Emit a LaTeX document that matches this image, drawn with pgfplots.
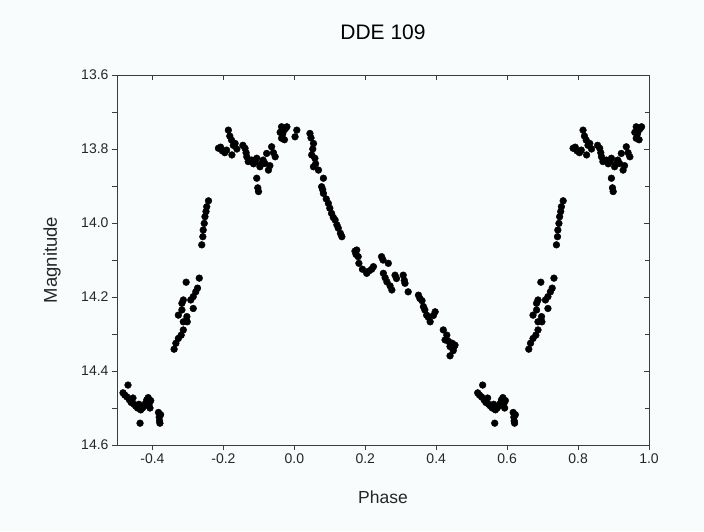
\documentclass[border=0pt]{standalone}
\usepackage{pgfplots}
\pgfplotsset{compat=1.18}
\usepackage{fontspec}
\setmainfont{Liberation Sans}
\pgfdeclarelayer{background}
\pgfsetlayers{background,main}
\definecolor{bgc}{RGB}{249,252,252}
\definecolor{framec}{RGB}{60,60,60}
\begin{document}
\begin{tikzpicture}
\pgfplotsset{
  common/.style={
    scale only axis, width=532pt, height=370pt,
    xmin=-0.5, xmax=1.0, ymin=13.6, ymax=14.6, y dir=reverse,
    xtick={-0.4,-0.2,0,0.2,0.4,0.6,0.8,1.0},
    ytick={13.6,13.8,14.0,14.2,14.4,14.6},
    minor y tick num=1,
    axis line style={draw=framec, line width=0.8pt},
    tick style={draw=framec, line width=0.8pt},
    major tick length=5pt, minor tick length=4.5pt,
    /pgf/number format/assume math mode=true,
    /pgf/number format/fixed, /pgf/number format/fixed zerofill,
    /pgf/number format/precision=1,
    ticklabel style={font=\fontsize{14}{16}\selectfont, text=black!85},
  }
}
\begin{axis}[common,
  xtick pos=bottom, ytick pos=left, tick align=outside,
  clip=false]
\addplot[only marks, mark=*, mark size=3.4pt, black] coordinates {
(-0.483,14.459) (-0.478,14.465) (-0.469,14.438) (-0.472,14.470) (-0.465,14.478)
(-0.460,14.485) (-0.455,14.473) (-0.452,14.490) (-0.447,14.495) (-0.442,14.500)
(-0.438,14.490) (-0.435,14.497) (-0.433,14.505) (-0.435,14.541) (-0.428,14.500)
(-0.424,14.495) (-0.420,14.488) (-0.416,14.478) (-0.412,14.472) (-0.408,14.485)
(-0.407,14.500) (-0.405,14.480) (-0.383,14.512) (-0.381,14.525) (-0.380,14.535)
(-0.379,14.541) (-0.377,14.518)
(-0.339,14.341) (-0.334,14.325) (-0.327,14.312) (-0.319,14.303) (-0.313,14.289)
(-0.302,14.267) (-0.313,14.267) (-0.327,14.249) (-0.303,14.253) (-0.317,14.235)
(-0.317,14.217) (-0.313,14.208) (-0.305,14.160) (-0.292,14.208) (-0.285,14.199)
(-0.285,14.231) (-0.278,14.186) (-0.273,14.176) (-0.268,14.149) (-0.261,14.059)
(-0.258,14.037) (-0.257,14.019) (-0.254,14.001) (-0.252,13.983) (-0.249,13.969)
(-0.247,13.956) (-0.242,13.940)
(-0.214,13.798) (-0.208,13.795) (-0.203,13.805) (-0.196,13.810) (-0.191,13.803)
(-0.186,13.749) (-0.182,13.765) (-0.177,13.776) (-0.172,13.790) (-0.176,13.816)
(-0.167,13.785) (-0.162,13.800) (-0.145,13.790) (-0.139,13.798) (-0.136,13.810)
(-0.134,13.821) (-0.130,13.834) (-0.120,13.830) (-0.115,13.840) (-0.110,13.835)
(-0.106,13.825) (-0.106,13.879) (-0.101,13.915) (-0.103,13.905) (-0.097,13.848)
(-0.092,13.840) (-0.088,13.830) (-0.083,13.839) (-0.078,13.812) (-0.073,13.857)
(-0.069,13.845) (-0.064,13.794) (-0.059,13.810) (-0.054,13.821) (-0.040,13.755)
(-0.036,13.740) (-0.033,13.760) (-0.031,13.753) (-0.036,13.771) (-0.028,13.775)
(-0.021,13.740) (-0.025,13.745) (0.007,13.749) (0.002,13.767)
(0.044,13.758) (0.047,13.770) (0.054,13.785) (0.049,13.816) (0.052,13.800)
(0.058,13.825) (0.054,13.848) (0.060,13.840) (0.068,13.857) (0.082,13.879)
(0.077,13.902) (0.080,13.910) (0.082,13.920) (0.090,13.935) (0.096,13.947)
(0.100,13.960) (0.105,13.974) (0.110,13.985) (0.115,13.992) (0.120,14.005)
(0.124,14.014) (0.130,14.028) (0.134,14.037) (0.171,14.076) (0.174,14.085)
(0.176,14.073) (0.180,14.091) (0.182,14.109) (0.192,14.125) (0.204,14.136)
(0.210,14.130) (0.218,14.125) (0.223,14.118) (0.246,14.091) (0.250,14.100)
(0.265,14.109) (0.251,14.136) (0.256,14.148) (0.261,14.159) (0.270,14.170)
(0.275,14.181) (0.284,14.141) (0.288,14.150) (0.307,14.141) (0.310,14.155)
(0.312,14.163) (0.321,14.186) (0.350,14.195) (0.354,14.204) (0.360,14.210)
(0.364,14.226) (0.368,14.235) (0.373,14.249) (0.378,14.255) (0.383,14.267)
(0.397,14.240) (0.392,14.250) (0.420,14.289) (0.425,14.316) (0.430,14.303)
(0.435,14.320) (0.439,14.334) (0.439,14.359) (0.445,14.325) (0.450,14.335)
(0.453,14.330) (0.448,14.345)
(0.517,14.459) (0.522,14.465) (0.531,14.438) (0.528,14.470) (0.535,14.478)
(0.540,14.485) (0.545,14.473) (0.548,14.490) (0.553,14.495) (0.558,14.500)
(0.562,14.490) (0.565,14.497) (0.567,14.505) (0.565,14.541) (0.572,14.500)
(0.576,14.495) (0.580,14.488) (0.584,14.478) (0.588,14.472) (0.592,14.485)
(0.593,14.500) (0.595,14.480) (0.617,14.512) (0.619,14.525) (0.620,14.535)
(0.621,14.541) (0.623,14.518)
(0.661,14.341) (0.666,14.325) (0.673,14.312) (0.681,14.303) (0.687,14.289)
(0.698,14.267) (0.687,14.267) (0.673,14.249) (0.697,14.253) (0.683,14.235)
(0.683,14.217) (0.687,14.208) (0.695,14.160) (0.708,14.208) (0.715,14.199)
(0.715,14.231) (0.722,14.186) (0.727,14.176) (0.732,14.149) (0.739,14.059)
(0.742,14.037) (0.743,14.019) (0.746,14.001) (0.748,13.983) (0.751,13.969)
(0.753,13.956) (0.758,13.940)
(0.786,13.798) (0.792,13.795) (0.797,13.805) (0.804,13.810) (0.809,13.803)
(0.814,13.749) (0.818,13.765) (0.823,13.776) (0.828,13.790) (0.824,13.816)
(0.833,13.785) (0.838,13.800) (0.855,13.790) (0.861,13.798) (0.864,13.810)
(0.866,13.821) (0.870,13.834) (0.880,13.830) (0.885,13.840) (0.890,13.835)
(0.894,13.825) (0.894,13.879) (0.899,13.915) (0.897,13.905) (0.903,13.848)
(0.908,13.840) (0.912,13.830) (0.917,13.839) (0.922,13.812) (0.927,13.857)
(0.931,13.845) (0.936,13.794) (0.941,13.810) (0.946,13.821) (0.960,13.755)
(0.964,13.740) (0.967,13.760) (0.969,13.753) (0.964,13.771) (0.972,13.775)
(0.979,13.740) (0.975,13.745)
};
\end{axis}
\begin{axis}[common,
  xtick pos=top, ytick pos=right, tick align=inside,
  xticklabels={}, yticklabels={}]
\end{axis}
\node[anchor=base, font=\fontsize{21}{24}\selectfont] at ([yshift=35.7pt]current axis.north) {DDE 109};
\node[anchor=base, font=\fontsize{17.5}{20}\selectfont, text=black!85] at ([yshift=-58pt]current axis.south) {Phase};
\node[anchor=base, rotate=90, font=\fontsize{18.5}{21}\selectfont, text=black!85] at ([xshift=-60pt]current axis.west) {Magnitude};
\begin{pgfonlayer}{background}
\fill[bgc] ([xshift=-117pt,yshift=-86pt]current axis.south west) rectangle ([xshift=55pt,yshift=75pt]current axis.north east);
\end{pgfonlayer}
\pgfresetboundingbox
\path[use as bounding box] ([xshift=-117pt,yshift=-86pt]current axis.south west) rectangle ([xshift=55pt,yshift=75pt]current axis.north east);
\end{tikzpicture}
\end{document}
